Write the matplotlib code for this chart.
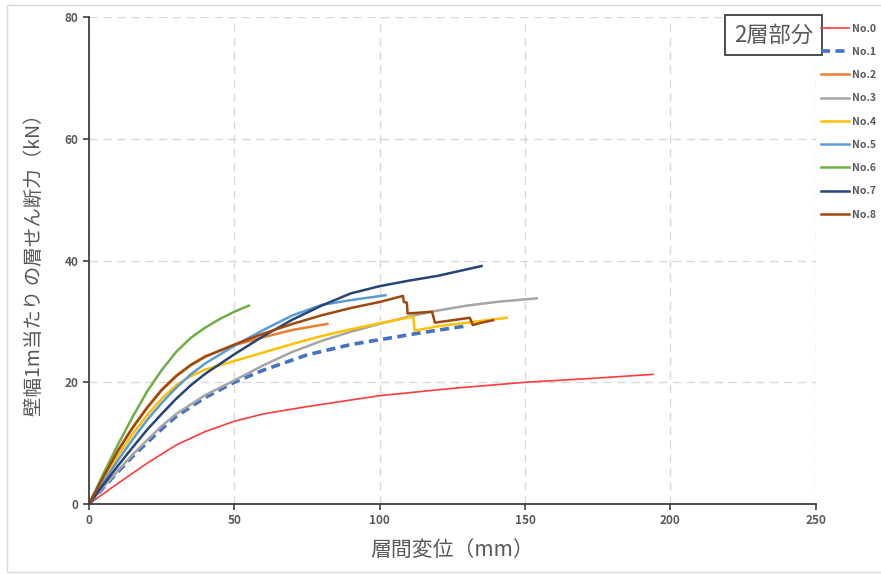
import matplotlib.pyplot as plt
from matplotlib.patches import Rectangle

plt.rcParams['font.family'] = ['Noto Sans CJK JP', 'DejaVu Sans']

# 層間変位 (mm) / せん断力 (kN)
x0 = [0, 10, 20, 30, 40, 50, 60, 75, 100, 125, 150, 175, 194]
y0 = [0, 3.4, 6.7, 9.7, 11.9, 13.6, 14.8, 16, 17.8, 19, 20, 20.7, 21.3]

x1 = [0, 5, 10, 15, 20, 25, 30, 40, 50, 60, 75, 90, 100, 115, 129]
y1 = [0, 2.7, 5.3, 7.8, 10.1, 12.3, 14.4, 17.5, 20, 22, 24.5, 26.2, 27, 28.2, 29.2]

x2 = [0, 5, 10, 15, 20, 25, 30, 35, 40, 50, 60, 70, 82]
y2 = [0, 4.5, 8.8, 12.6, 15.9, 18.8, 21.1, 22.9, 24.3, 26.1, 27.4, 28.6, 29.6]

x3 = [0, 5, 10, 15, 20, 25, 30, 40, 50, 60, 70, 80, 90, 100, 110, 120, 130, 140, 154]
y3 = [0, 2.8, 5.5, 8.1, 10.5, 12.8, 14.8, 17.9, 20.3, 22.8, 25, 26.8, 28.3, 29.6, 30.8, 31.8, 32.6, 33.2, 33.8]

x4 = [0, 5, 10, 15, 20, 25, 30, 35, 40, 50, 60, 70, 80, 90, 100, 111.5, 112, 120, 130, 143.7]
y4 = [0, 4, 8, 11.5, 14.6, 17.3, 19.5, 21, 22.1, 23.5, 24.9, 26.3, 27.6, 28.7, 29.7, 30.8, 28.5, 29.2, 29.8, 30.6]

x5 = [0, 5, 10, 15, 20, 25, 30, 35, 40, 50, 60, 70, 80, 90, 102]
y5 = [0, 3.6, 7.2, 10.6, 13.8, 16.6, 19.1, 21.3, 23.1, 26, 28.6, 31, 32.7, 33.5, 34.3]

x6 = [0, 5, 10, 15, 20, 25, 30, 35, 40, 45, 50, 55]
y6 = [0, 5, 9.8, 14.3, 18.5, 22, 25, 27.3, 29, 30.4, 31.6, 32.6]

x7 = [0, 5, 10, 15, 20, 25, 30, 35, 40, 50, 60, 70, 80, 90, 100, 110, 120, 135]
y7 = [0, 3.2, 6.3, 9.3, 12.2, 14.8, 17.3, 19.5, 21.4, 24.6, 27.6, 30.3, 32.6, 34.6, 35.8, 36.7, 37.5, 39.1]

x8 = [0, 5, 10, 15, 20, 25, 30, 35, 40, 50, 60, 70, 80, 90, 100, 108, 108.3, 109.3, 109.6,
      118, 119, 125, 131, 132, 135, 139]
y8 = [0, 4.5, 8.8, 12.5, 15.8, 18.7, 21, 22.8, 24.2, 26.2, 28, 29.6, 31, 32.2, 33.2, 34.2, 33.2, 33.1, 31.3,
      31.6, 29.8, 30.2, 30.6, 29.4, 29.8, 30.2]

labels = ['No.0', 'No.1', 'No.2', 'No.3', 'No.4', 'No.5', 'No.6', 'No.7', 'No.8']
colors = ['#ff3b3b', '#4472c4', '#ed7d31', '#a5a5a5', '#ffc000',
          '#5b9bd5', '#70ad47', '#264478', '#9e480e']

fig = plt.figure(figsize=(8.81, 5.74), dpi=100)
fig.patches.append(Rectangle((0.008, 0.004), 1.2, 0.988, transform=fig.transFigure,
                             fill=False, edgecolor='#d9d9d9', linewidth=1))
ax = fig.add_axes([0.101, 0.122, 0.825, 0.848])

series = [(x0, y0), (x1, y1), (x2, y2), (x3, y3), (x4, y4),
          (x5, y5), (x6, y6), (x7, y7), (x8, y8)]
for i, (xs, ys) in enumerate(series):
    if i == 1:
        ax.plot(xs, ys, color=colors[i], lw=2.6, ls=(0, (2.5, 1.5)), label=labels[i])
    elif i == 0:
        ax.plot(xs, ys, color=colors[i], lw=1.2, label=labels[i])
    else:
        ax.plot(xs, ys, color=colors[i], lw=1.8, label=labels[i])

ax.set_xlim(0, 250)
ax.set_ylim(0, 80)
ax.set_xticks(range(0, 251, 50))
ax.set_yticks(range(0, 81, 20))
ax.grid(True, color='#d9d9d9', ls=(0, (6, 4)), lw=1)
ax.set_axisbelow(True)
for s in ['top', 'right']:
    ax.spines[s].set_visible(False)
for s in ['left', 'bottom']:
    ax.spines[s].set_color('#404040')
    ax.spines[s].set_linewidth(1.3)
ax.tick_params(colors='#404040', labelsize=8.5, length=4, width=1.2)
for t in ax.get_xticklabels() + ax.get_yticklabels():
    t.set_fontweight('bold')
    t.set_color('#595959')

ax.set_xlabel('層間変位（mm）', fontsize=15, color='#595959', labelpad=8)
ax.set_ylabel('壁幅1m当たり の層せん断力（kN）', fontsize=14, color='#595959', labelpad=14)

ax.text(0.9965, 0.987, '2層部分', transform=ax.transAxes, ha='right', va='top',
        fontsize=16, color='#595959',
        bbox=dict(boxstyle='square,pad=0.4', fc='white', ec='#404040', lw=1.3))

leg = ax.legend(loc='upper left', bbox_to_anchor=(0.994, 1.006), frameon=False,
                fontsize=7.5, handlelength=2.7, handletextpad=0.25, labelspacing=1.27,
                labelcolor='#595959')
for t in leg.get_texts():
    t.set_fontweight('bold')

fig.savefig('out.png', dpi=100)
